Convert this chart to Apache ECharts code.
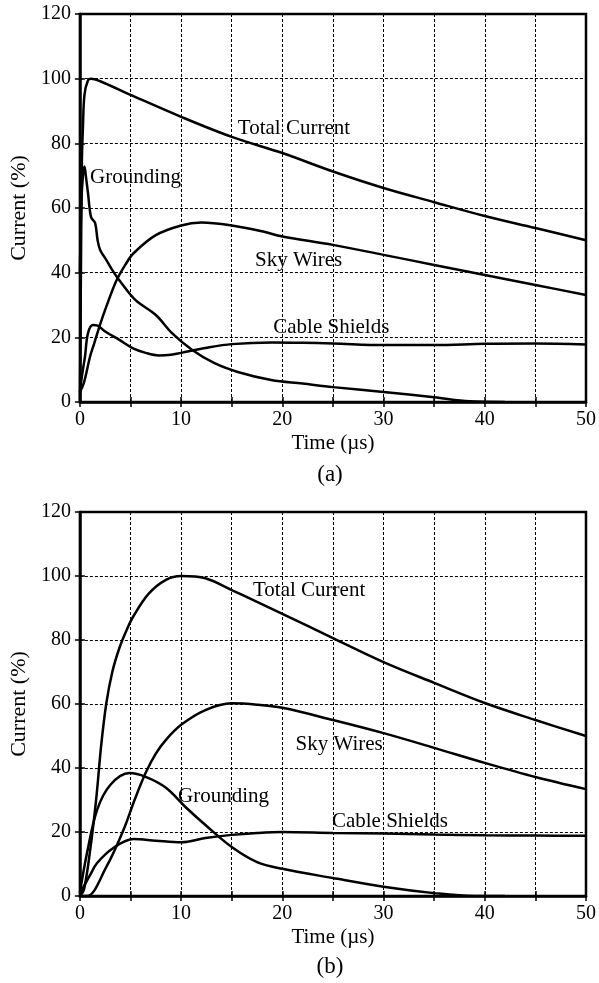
<!DOCTYPE html>
<html>
<head>
<meta charset="utf-8">
<script src="https://cdn.jsdelivr.net/npm/echarts@6/dist/echarts.min.js"></script>
<style>
html, body { margin: 0; padding: 0; background: #fff; }
#chart { width: 599px; height: 983px; }
</style>
</head>
<body>
<div id="chart"></div>
<script>
// ---- (a) ----
const aTotalT = [0, 0.1, 0.2, 0.3, 0.45, 0.8, 1.1, 2, 5, 10, 15, 20, 25, 30, 35, 40, 45, 50];
const aTotalV = [0, 40, 75, 85, 95, 99.5, 100, 99.2, 95, 88.2, 82, 77, 71.3, 66.2, 61.8, 57.5, 53.8, 50];

const aGroundT = [0, 0.15, 0.3, 0.45, 0.6, 0.8, 1.1, 1.5, 1.75, 2, 2.5, 3.2, 4.1, 5.5, 7.5, 9.1, 11.1, 13.3, 15.6, 18.9, 22, 25, 30, 35, 38.5, 42];
const aGroundV = [40, 62, 70, 72.8, 69.6, 64.6, 57.2, 55.4, 50, 47, 44.5, 40.8, 36.8, 31.5, 26.9, 21.3, 16.1, 12, 9.3, 6.8, 5.7, 4.6, 3.1, 1.5, 0.2, 0];

const aSkyT = [0, 0.4, 1, 1.4, 2, 2.6, 3.6, 4.5, 5.3, 7.5, 10, 12, 15, 18, 20, 25, 30, 35, 40, 45, 50];
const aSkyV = [3, 6, 14, 18, 24, 29.4, 37.5, 42.5, 46, 51.6, 54.6, 55.5, 54.6, 52.8, 51.2, 48.6, 45.5, 42.4, 39.3, 36.2, 33.1];

const aCableT = [0, 0.2, 0.5, 0.8, 1.3, 1.75, 2.5, 3.9, 5.2, 6.5, 7.8, 9, 10, 12.4, 15, 19, 22, 25, 30, 35, 40, 45, 50];
const aCableV = [3, 8, 14, 21.3, 23.8, 23.6, 21.8, 19.2, 16.7, 15.2, 14.4, 14.6, 15.2, 16.7, 17.9, 18.4, 18.3, 18.1, 17.6, 17.6, 18, 18.1, 17.8];

// ---- (b) ----
const bTotalT = [0, 0.4, 1, 1.6, 2.1, 2.6, 3.2, 3.9, 4.6, 5.3, 6.8, 8.5, 10, 12.4, 15, 17.5, 20, 25, 30, 35, 40, 45, 50];
const bTotalV = [0, 2, 14, 30, 47, 60, 70, 77.5, 83, 87.5, 94.5, 98.8, 100, 99.3, 95.6, 91.9, 88.2, 80.6, 73.1, 66.6, 60.3, 55, 50];

const bSkyT = [0, 0.7, 2.6, 4.3, 5.4, 6.5, 7.5, 8.5, 10, 12.4, 15, 17.5, 20, 25, 30, 35, 40, 45, 50];
const bSkyV = [0, 0, 9, 20.6, 30, 38.5, 44.5, 48.8, 53.5, 58.1, 60.2, 59.8, 58.8, 55, 50.9, 46.3, 41.6, 37.2, 33.4];

const bGroundT = [0, 0.7, 1.7, 3, 4.9, 6.5, 8.5, 10.4, 12.4, 15, 17.5, 20, 25, 30, 35, 39, 42];
const bGroundV = [1, 13.4, 26.9, 34.7, 38.4, 37.2, 33.8, 27.9, 22.2, 15.3, 10.6, 8.5, 5.6, 2.9, 0.9, 0, 0];

const bCableT = [0, 0.2, 1, 1.7, 3.3, 5.3, 7.5, 10, 12.4, 15, 17.5, 20, 25, 30, 35, 40, 45, 50];
const bCableV = [1, 2, 6.5, 10.3, 15, 17.8, 17.3, 16.8, 18.1, 19.1, 19.7, 20, 19.7, 19.5, 19.2, 19, 18.9, 18.8];

// curve names, anchored at the left/middle of each text (data coords)
const aNotes = [['Total Current', 15.6, 84.7], ['Grounding', 1.0, 69.3], ['Sky Wires', 17.3, 43.9], ['Cable Shields', 19.1, 22.9]];
const bNotes = [['Total Current', 17.1, 95.6], ['Sky Wires', 21.3, 47.2], ['Grounding', 9.7, 31.2], ['Cable Shields', 24.9, 23.4]];

const font = 'Liberation Serif';

function pairs(t, v) {
  return t.map((x, i) => [x, v[i]]);
}

function curve(t, v, g) {
  return {
    type: 'line',
    xAxisIndex: g * 2,
    yAxisIndex: g * 2,
    data: pairs(t, v),
    showSymbol: false,
    smooth: 0.35,
    silent: true,
    lineStyle: { color: '#000', width: 2.5 },
    z: 3
  };
}

function notes(list, g) {
  return {
    type: 'scatter',
    xAxisIndex: g * 2,
    yAxisIndex: g * 2,
    symbolSize: 0,
    silent: true,
    itemStyle: { opacity: 1 },
    data: list.map(n => ({ name: n[0], value: [n[1], n[2]] })),
    label: {
      show: true, position: 'right', distance: 0, formatter: '{b}',
      color: '#000', fontFamily: font, fontSize: 21
    },
    z: 4
  };
}

const dash = { color: '#000', width: 1, type: [3, 2] };

function xAxes(g) {
  return [
    {
      gridIndex: g, type: 'value', min: 0, max: 50, interval: 5,
      name: 'Time (µs)', nameLocation: 'middle', nameGap: 31,
      nameTextStyle: { color: '#000', fontFamily: font, fontSize: 21 },
      axisLine: { lineStyle: { color: '#000', width: 2.5 } },
      axisTick: { inside: true, length: 5, lineStyle: { color: '#000', width: 1.5 } },
      axisLabel: {
        color: '#000', fontFamily: font, fontSize: 20, margin: 8,
        formatter: v => (v % 10 === 0 ? String(v) : '')
      },
      splitLine: { show: true, lineStyle: dash }
    },
    {
      gridIndex: g, type: 'value', min: 0, max: 50, interval: 5, position: 'top',
      axisLine: { show: false },
      axisTick: { inside: true, length: 5, lineStyle: { color: '#000', width: 1.5 } },
      axisLabel: { show: false },
      splitLine: { show: false }
    }
  ];
}

function yAxes(g) {
  return [
    {
      gridIndex: g, type: 'value', min: 0, max: 120, interval: 20,
      name: 'Current (%)', nameLocation: 'middle', nameGap: 40,
      nameTextStyle: { color: '#000', fontFamily: font, fontSize: 22 },
      axisLine: { lineStyle: { color: '#000', width: 2.5 } },
      axisTick: { inside: true, length: 5, lineStyle: { color: '#000', width: 1.5 } },
      axisLabel: { color: '#000', fontFamily: font, fontSize: 20, margin: 9 },
      splitLine: { show: true, lineStyle: dash }
    },
    {
      gridIndex: g, type: 'value', min: 0, max: 120, interval: 20, position: 'right',
      axisLine: { show: false },
      axisTick: { inside: true, length: 5, lineStyle: { color: '#000', width: 1.5 } },
      axisLabel: { show: false },
      splitLine: { show: false }
    }
  ];
}

const chart = echarts.init(document.getElementById('chart'));
chart.setOption({
  animation: false,
  backgroundColor: '#fff',
  grid: [
    { left: 73, right: 13, top: 14, height: 388, show: true, borderColor: '#000', borderWidth: 2.5, backgroundColor: 'transparent' },
    { left: 74, right: 13, top: 512, height: 384, show: true, borderColor: '#000', borderWidth: 2.5, backgroundColor: 'transparent' }
  ],
  xAxis: xAxes(0).concat(xAxes(1)),
  yAxis: yAxes(0).concat(yAxes(1)),
  graphic: [
    { type: 'text', x: 330, y: 475, style: { text: '(a)', font: '23px "Liberation Serif"', fill: '#000', textAlign: 'center', textVerticalAlign: 'middle' } },
    { type: 'text', x: 330, y: 967, style: { text: '(b)', font: '23px "Liberation Serif"', fill: '#000', textAlign: 'center', textVerticalAlign: 'middle' } }
  ],
  series: [
    curve(aTotalT, aTotalV, 0),
    curve(aGroundT, aGroundV, 0),
    curve(aSkyT, aSkyV, 0),
    curve(aCableT, aCableV, 0),
    notes(aNotes, 0),
    curve(bTotalT, bTotalV, 1),
    curve(bSkyT, bSkyV, 1),
    curve(bGroundT, bGroundV, 1),
    curve(bCableT, bCableV, 1),
    notes(bNotes, 1)
  ]
});
</script>
</body>
</html>
